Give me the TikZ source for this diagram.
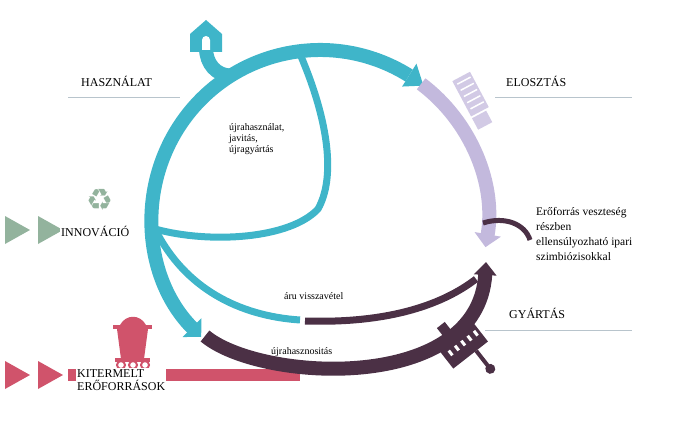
\documentclass[tikz,border=0pt]{standalone}
\usepackage{fontspec}
\setmainfont{Liberation Serif}
\newfontfamily\dejavu{DejaVu Sans}
\usetikzlibrary{arrows.meta}
\definecolor{tealc}{HTML}{3FB5C9}
\definecolor{lav}{HTML}{C3B9DD}
\definecolor{darkp}{HTML}{4B3045}
\definecolor{pinkc}{HTML}{D0536B}
\definecolor{greenc}{HTML}{93B39D}
\definecolor{greyl}{HTML}{B8C4CC}
\tikzset{
  band/.style={line width=14pt},
  thin band/.style={line width=7pt},
  tip/.style={-{Triangle[width=26pt,length=13pt]}},
  lbl/.style={font=\fontsize{12}{13}\selectfont, inner sep=1pt},
  small/.style={font=\fontsize{10}{11}\selectfont, inner sep=1pt, align=left},
}
\begin{document}
\begin{tikzpicture}[x=1pt,y=1pt]
\useasboundingbox (0,0) rectangle (682,424);
\coordinate (C) at (320,206);
% grey lines
\draw[greyl, line width=1pt] (68,327) -- (180,327);
\draw[greyl, line width=1pt] (495,327) -- (632,327);
\draw[greyl, line width=1pt] (485,94) -- (632,94);
% pink bar
\fill[pinkc] (68,43) rectangle (300,55);
\fill[pinkc] (5,35) -- (30,49) -- (5,63) -- cycle;
\fill[pinkc] (38,35) -- (63,49) -- (38,63) -- cycle;
% green triangles
\fill[greenc] (5,180) -- (30,194) -- (5,208) -- cycle;
\fill[greenc] (38,180) -- (63,194) -- (38,208) -- cycle;
% main teal arc
\draw[tealc, band, tip] ([shift={(58:168)}]C) arc[start angle=58, end angle=225, radius=168];
\fill[tealc] ([shift={(58:155)}]C) -- ([shift={(58:182)}]C) -- ([shift={(52:168)}]C) -- cycle;
% branch to house
\draw[tealc, band] ([shift={(122:168)}]C) .. controls ([shift={(126:176)}]C) and (206,360) .. (206,376);
\fill[tealc] (190,372) -- (190,390) -- (206,404) -- (222,390) -- (222,372) -- cycle;
\fill[white] (202,374) -- (202,384) arc[start angle=180,end angle=0,radius=4] -- (210,374) -- cycle;
% lavender arc
\draw[lav, band, tip] ([shift={(53:168)}]C) arc[start angle=53, end angle=-10, radius=168];
% dark main arc
\draw[darkp, band, -{Triangle[width=22pt,length=13pt]}] (205,88) .. controls (260,42) and (478,30) .. (486,162);
% dark inner
\draw[darkp, thin band] (305,103) .. controls (400,100) and (450,125) .. (476,145);
\draw[darkp, line width=5pt] (483,201) .. controls (505,208) and (525,200) .. (530,184);
% inner teal
\draw[tealc, thin band] (300,370) .. controls (330,300) and (335,245) .. (318,215)
   .. controls (290,185) and (210,180) .. (155,195);
\draw[tealc, thin band] (155,195) .. controls (185,135) and (240,108) .. (300,104);
% truck icon
\begin{scope}[shift={(472,325)}, rotate=-62]
\fill[lav!75!white] (-25,-9) rectangle (15,11);
\fill[lav!75!white] (17,-9) rectangle (30,7);
\foreach \i in {-20,-13,...,12} \draw[white, line width=1.5pt] (\i,-6) -- (\i,9);
\end{scope}
% recycle symbol
\node[text=greenc, font=\dejavu\fontsize{30}{30}\selectfont] (rec) at (100,224) {♻};
% mine cart
\fill[pinkc] (117,95) -- (148,95) -- (144,65) -- (121,65) -- cycle;
\fill[pinkc] (113,95) rectangle (152,99);
\fill[pinkc] (120,99) .. controls (126,110) and (140,110) .. (146,99) -- cycle;
\fill[pinkc] (115,62) rectangle (150,66);
\foreach \x in {121,133,145} \draw[pinkc, line width=2pt] (\x,59) circle (4);
% factory icon
\begin{scope}[shift={(462,80)}, rotate=38]
\fill[darkp] (-22,-14) rectangle (22,14);
\fill[darkp] (-10,14) rectangle (0,28);
\foreach \i in {-16,-8,...,16} \fill[white] (\i,-3) rectangle (\i+3,3);
\fill[darkp] (5,-14) rectangle (9,-34);
\fill[darkp] (7,-37) circle (5);
\end{scope}
% labels
\node[lbl, anchor=west] (has) at (80,343) {HASZNÁLAT};
\node[lbl, anchor=west] (elo) at (505,343) {ELOSZTÁS};
\node[lbl, anchor=west] (gya) at (508,111) {GYÁRTÁS};
\node[lbl, anchor=west, fill=white] (inn) at (60,193) {INNOVÁCIÓ};
\node[lbl, anchor=north west, align=left, fill=white] (kit) at (76,56) {KITERMELT\\ERŐFORRÁSOK};
\node[small, anchor=north west] (ujr) at (228,302) {újrahasználat,\\javitás,\\újragyártás};
\node[small, anchor=west] (aru) at (283,128) {áru visszavétel};
\node[small, anchor=west] (ujh) at (270,72) {újrahasznositás};
\node[lbl, anchor=north west, align=left, font=\fontsize{11.5}{15}\selectfont] (ero) at (535,218) {Erőforrás veszteség\\részben\\ellensúlyozható ipari\\szimbiózisokkal};
\end{tikzpicture}
\end{document}
